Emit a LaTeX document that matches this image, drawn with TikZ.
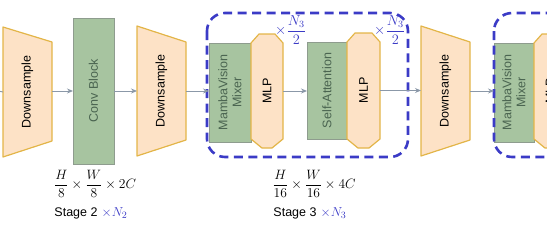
\documentclass[tikz,border=0pt]{standalone}
\usepackage{amsmath}
\usepackage{graphicx}
\usepackage{fontspec}
\setmainfont{Liberation Sans}
\usetikzlibrary{arrows.meta}
\definecolor{dsfill}{HTML}{FDE2C6}
\definecolor{dsline}{HTML}{E3B548}
\definecolor{gfill}{HTML}{A7C4A0}
\definecolor{gline}{HTML}{8E9C8E}
\definecolor{gtext}{HTML}{4A6450}
\definecolor{bl}{HTML}{3B3BC6}
\definecolor{arrc}{HTML}{8B98A8}
\tikzset{
  area/.style={inner sep=0, outer sep=0, minimum width=#1},
  orng/.style={fill=dsfill, draw=dsline, line width=1.2pt, line join=round},
  grn/.style={fill=gfill, draw=gline, line width=1pt},
  arr/.style={draw=arrc, line width=0.9pt, -{Stealth[length=6pt,width=5pt]}},
  stage/.style={draw=bl, line width=2.6pt, dash pattern=on 9pt off 5.5pt, rounded corners=18pt},
  lbl/.style={font=\fontsize{12.5}{14}\selectfont, rotate=90, align=center, inner sep=0},
  glbl/.style={lbl, text=gtext},
  mul/.style={text=bl, inner sep=0, font=\fontsize{12}{14}\selectfont},
  formula/.style={inner sep=0, font=\fontsize{12}{14}\selectfont},
}
\begin{document}
\begin{tikzpicture}[x=1pt,y=-1pt]
\useasboundingbox (0,0) rectangle (547,233);
\coordinate (s3a) at (207,13);
\coordinate (s3b) at (408,157);
\coordinate (s4a) at (494,13);
\coordinate (s4b) at (720,157);

% Downsample 1
\node[area=49, minimum height=130] (d1) at (27.5,92) {};
\draw[orng] (d1.north west) -- ([yshift=-15pt]d1.north east) -- ([yshift=16pt]d1.south east) -- (d1.south west) -- cycle;
\node[lbl] (d1t) at (d1.center) {Downsample};

% Conv block
\node[area=41, minimum height=146, grn] (cb) at (93.5,91) {};
\node[glbl] (cbt) at (cb.center) {Conv Block};

% Downsample 2
\node[area=49, minimum height=130] (d2) at (161.5,91) {};
\draw[orng] (d2.north west) -- ([yshift=-16pt]d2.north east) -- ([yshift=16pt]d2.south east) -- (d2.south west) -- cycle;
\node[lbl] (d2t) at (d2.center) {Downsample};

% Stage 3
\node[area=42, minimum height=99, grn] (mx1) at (230,92.5) {};
\node[glbl] (mx1t) at (mx1.center) {MambaVision\\Mixer};
\node[area=32, minimum height=114] (mlp1) at (267,91) {};
\draw[orng] ([yshift=-9pt]mlp1.north west) -- ([xshift=8pt]mlp1.north west) -- ([xshift=-8pt]mlp1.north east) -- ([yshift=-9pt]mlp1.north east)
  -- ([yshift=9pt]mlp1.south east) -- ([xshift=-11pt]mlp1.south east) -- ([xshift=11pt]mlp1.south west) -- ([yshift=9pt]mlp1.south west) -- cycle;
\node[lbl] (mlp1t) at (mlp1.center) {MLP};
\node[mul, anchor=south west] (m1) at (275,45) {\scalebox{1.2}{$\times\dfrac{N_3}{2}$}};

\node[area=40, minimum height=97, grn] (sa) at (327,90.5) {};
\node[glbl] (sat) at (sa.center) {Self-Attention};
\node[area=33, minimum height=115] (mlp2) at (363.5,90.5) {};
\draw[orng] ([yshift=-9pt]mlp2.north west) -- ([xshift=8pt]mlp2.north west) -- ([xshift=-8pt]mlp2.north east) -- ([yshift=-9pt]mlp2.north east)
  -- ([yshift=9pt]mlp2.south east) -- ([xshift=-11pt]mlp2.south east) -- ([xshift=11pt]mlp2.south west) -- ([yshift=9pt]mlp2.south west) -- cycle;
\node[lbl] (mlp2t) at (mlp2.center) {MLP};
\node[mul, anchor=south west] (m2) at (374,45) {\scalebox{1.2}{$\times\dfrac{N_3}{2}$}};

% Downsample 3
\node[area=49, minimum height=130] (d3) at (445.5,91) {};
\draw[orng] (d3.north west) -- ([yshift=-16pt]d3.north east) -- ([yshift=16pt]d3.south east) -- (d3.south west) -- cycle;
\node[lbl] (d3t) at (d3.center) {Downsample};

% Stage 4
\node[area=40, minimum height=99, grn] (mx2) at (514,92.5) {};
\node[glbl] (mx2t) at (mx2.center) {MambaVision\\Mixer};
\node[area=32, minimum height=114] (mlp3) at (550,91) {};
\draw[orng] ([yshift=-9pt]mlp3.north west) -- ([xshift=8pt]mlp3.north west) -- ([xshift=-8pt]mlp3.north east) -- ([yshift=-9pt]mlp3.north east)
  -- ([yshift=9pt]mlp3.south east) -- ([xshift=-11pt]mlp3.south east) -- ([xshift=11pt]mlp3.south west) -- ([yshift=9pt]mlp3.south west) -- cycle;
\node[lbl] (mlp3t) at (mlp3.center) {MLP};

% dashed stage frames
\draw[stage] (s3a) rectangle (s3b);
\draw[stage] (s4a) rectangle (s4b);

% connectors
\coordinate (in) at (-2,91);
\draw[draw=arrc, line width=0.9pt] (in) -- (d1.west);
\draw[arr] (d1.east |- cb.west) -- (cb.west);
\draw[arr] (cb.east) -- (d2.west);
\draw[arr] (d2.east) -- (mx1.west |- d2.east);
\draw[arr] (mlp1.east) -- (sa.west |- mlp1.east);
\draw[arr] (mlp2.east) -- (d3.west |- mlp2.east);
\draw[arr] (d3.east) -- (mx2.west |- d3.east);

% labels
\node[formula] (f2) at (95,184) {\scalebox{1.13}{$\dfrac{H}{8}\times\dfrac{W}{8}\times 2C$}};
\node[inner sep=0, font=\fontsize{12.5}{14}\selectfont] (st2) at (91,213) {Stage 2\,\,\textcolor{bl}{\scalebox{1.08}{$\times N_2$}}};
\node[formula] (f3) at (314,184) {\scalebox{1.13}{$\dfrac{H}{16}\times\dfrac{W}{16}\times 4C$}};
\node[inner sep=0, font=\fontsize{12.5}{14}\selectfont] (st3) at (310,213) {Stage 3\,\,\textcolor{bl}{\scalebox{1.08}{$\times N_3$}}};
\end{tikzpicture}
\end{document}
